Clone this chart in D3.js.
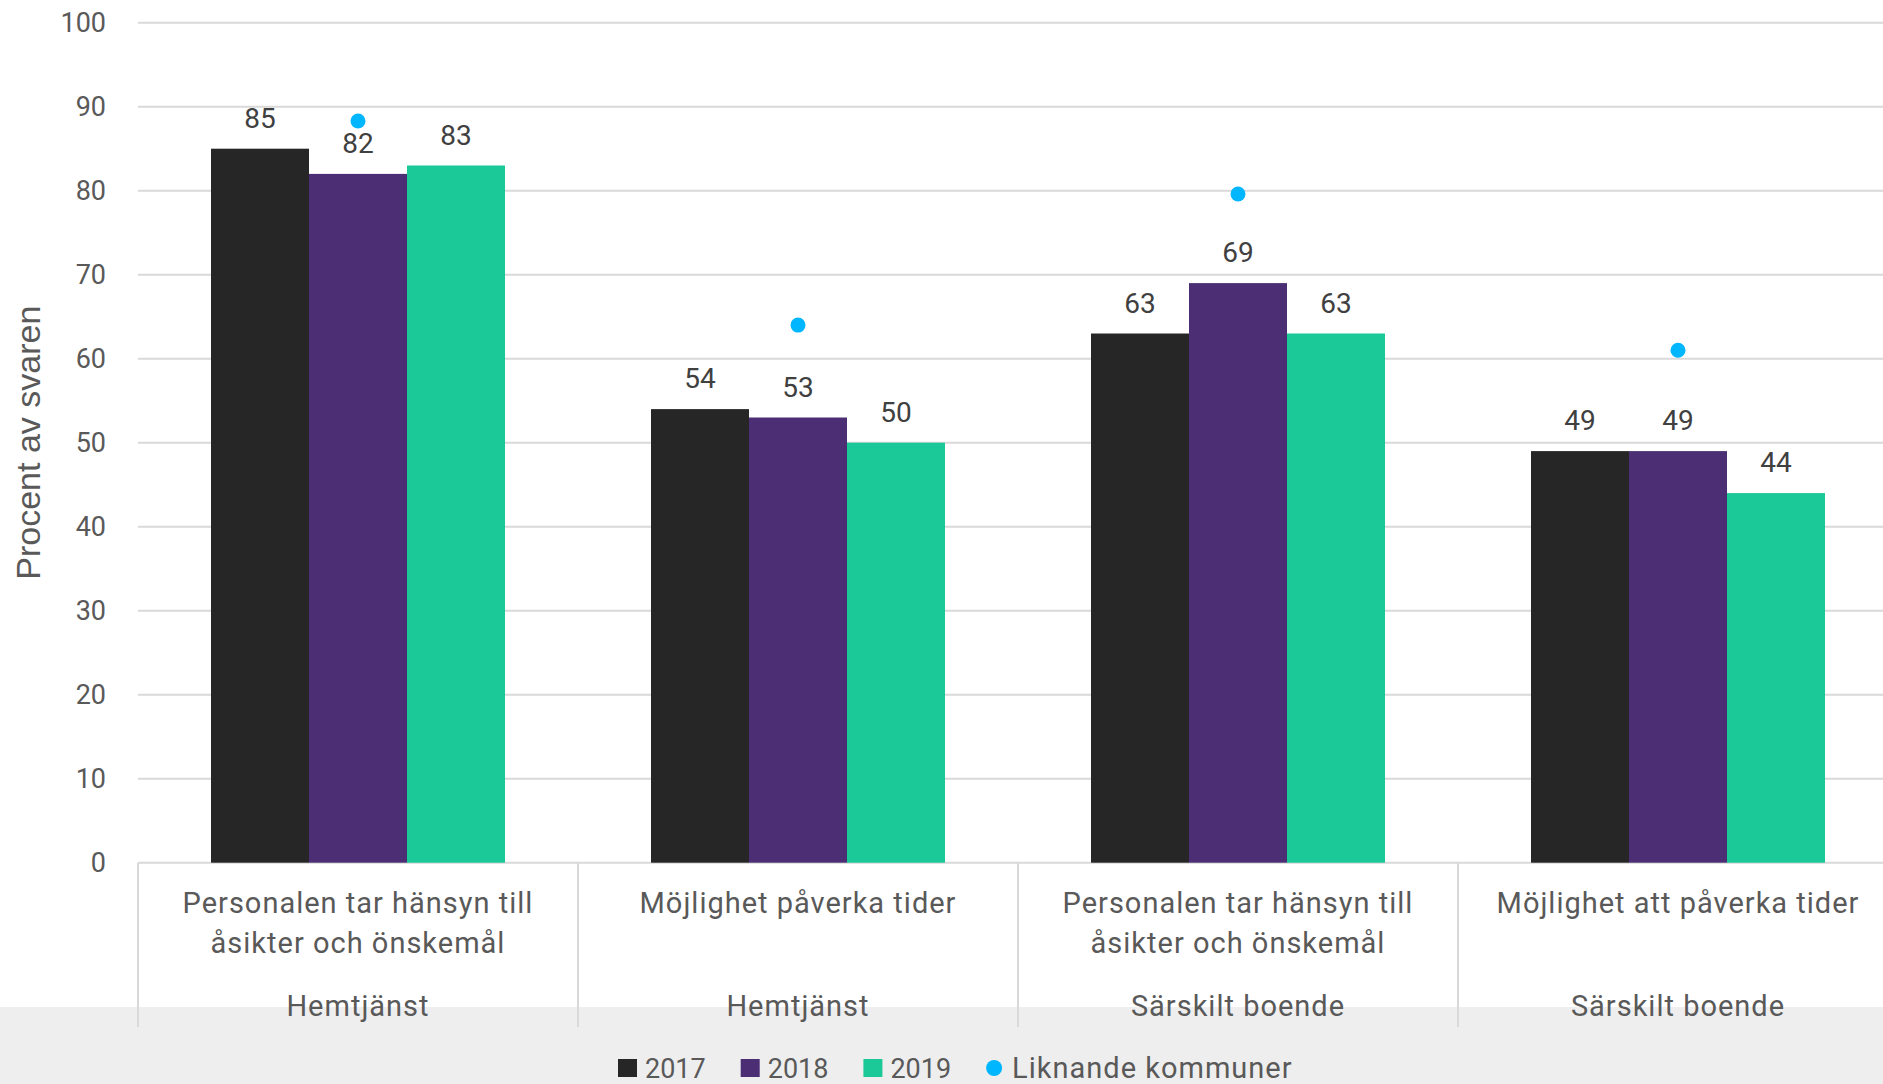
<!DOCTYPE html>
<html>
<head>
<meta charset="utf-8">
<script src="https://cdn.jsdelivr.net/npm/d3@7"></script>
<style>
  html, body { margin: 0; padding: 0; background: #ffffff; }
  svg { display: block; }
  text { font-family: Roboto, "Noto Sans", sans-serif; }
</style>
</head>
<body>
<svg id="chart" width="1883" height="1084"></svg>
<script>
// ---- Data ----
const categories = [
  ["Personalen tar hänsyn till", "åsikter och önskemål"],
  ["Möjlighet påverka tider"],
  ["Personalen tar hänsyn till", "åsikter och önskemål"],
  ["Möjlighet att påverka tider"]
];
const groups = ["Hemtjänst", "Hemtjänst", "Särskilt boende", "Särskilt boende"];
const years = ["2017", "2018", "2019"];
const values2017 = [85, 54, 63, 49];
const values2018 = [82, 53, 69, 49];
const values2019 = [83, 50, 63, 44];
const liknande = [88.3, 64, 79.6, 61];
const liknandeLabel = "Liknande kommuner";
const yTicks = [0, 10, 20, 30, 40, 50, 60, 70, 80, 90, 100];
const yTitle = "Procent av svaren";

const seriesValues = [values2017, values2018, values2019];
const colors = ["#262626", "#4b2e74", "#1bc897"];
const dotColor = "#00b6ff";

// ---- Layout ----
const W = 1883, H = 1084;
const plotLeft = 138, plotTop = 22.7, plotBottom = 862.7;
const bandW = 440;
const svg = d3.select("#chart");

const idx = d3.range(categories.length);
const x0 = d3.scaleBand().domain(idx).range([plotLeft, plotLeft + bandW * idx.length]).padding(0);
const x1 = d3.scaleBand().domain(years).range([0, x0.bandwidth()]).paddingInner(0).paddingOuter(0.745);
const y = d3.scaleLinear().domain([0, 100]).range([plotBottom, plotTop]);

// gray footer band
svg.append("rect").attr("x", 0).attr("y", 1007).attr("width", W).attr("height", H - 1007).attr("fill", "#eeeeee");

// gridlines
svg.append("g").selectAll("line").data(yTicks).join("line")
  .attr("x1", plotLeft).attr("x2", W)
  .attr("y1", d => y(d)).attr("y2", d => y(d))
  .attr("stroke", "#d9d9d9").attr("stroke-width", 2);

// y tick labels
svg.append("g").selectAll("text").data(yTicks).join("text")
  .attr("x", 106).attr("y", d => y(d)).attr("dy", "0.36em")
  .attr("text-anchor", "end").attr("font-size", 27).attr("fill", "#595959")
  .text(d => d);

// y title
svg.append("text")
  .attr("transform", `translate(40,${(plotTop + plotBottom) / 2}) rotate(-90)`)
  .attr("text-anchor", "middle")
  .style("font-family", "'Liberation Sans', Arial, sans-serif")
  .attr("font-size", 34).attr("fill", "#595959")
  .text(yTitle);

// category dividers
const bounds = idx.map(i => x0(i)).concat([x0(idx.length - 1) + x0.bandwidth()]);
svg.append("g").selectAll("line").data(bounds).join("line")
  .attr("x1", d => d).attr("x2", d => d)
  .attr("y1", plotBottom).attr("y2", 1027)
  .attr("stroke", "#d9d9d9").attr("stroke-width", 2);

// bars
const barData = [];
idx.forEach(i => years.forEach((yr, s) => barData.push({ i, yr, s, v: seriesValues[s][i] })));
svg.append("g").selectAll("rect").data(barData).join("rect")
  .attr("x", d => x0(d.i) + x1(d.yr))
  .attr("y", d => y(d.v))
  .attr("width", x1.bandwidth())
  .attr("height", d => y(0) - y(d.v))
  .attr("fill", d => colors[d.s]);

// value labels
svg.append("g").selectAll("text").data(barData).join("text")
  .attr("x", d => x0(d.i) + x1(d.yr) + x1.bandwidth() / 2)
  .attr("y", d => y(d.v) - 21)
  .attr("text-anchor", "middle").attr("font-size", 28).attr("fill", "#404040")
  .text(d => d.v);

// Liknande dots
svg.append("g").selectAll("circle").data(idx).join("circle")
  .attr("cx", i => x0(i) + x0.bandwidth() / 2)
  .attr("cy", i => y(liknande[i]))
  .attr("r", 7.5).attr("fill", dotColor);

// category labels
const catG = svg.append("g");
idx.forEach(i => {
  const cx = x0(i) + x0.bandwidth() / 2;
  categories[i].forEach((line, k) => {
    catG.append("text").attr("x", cx).attr("y", 903 + k * 40).attr("dy", "0.36em")
      .attr("text-anchor", "middle").attr("font-size", 29).attr("letter-spacing", 1)
      .attr("fill", "#595959").text(line);
  });
  catG.append("text").attr("x", cx).attr("y", 1006).attr("dy", "0.36em")
    .attr("text-anchor", "middle").attr("font-size", 29).attr("letter-spacing", 1)
    .attr("fill", "#595959").text(groups[i]);
});

// legend
const leg = svg.append("g");
let lx = 618;
const ly = 1068;
const legItems = years.map((yr, s) => ({ label: yr, color: colors[s], type: "rect" }))
  .concat([{ label: liknandeLabel, color: dotColor, type: "circle" }]);
legItems.forEach(it => {
  if (it.type === "rect") {
    leg.append("rect").attr("x", lx).attr("y", ly - 9).attr("width", 19).attr("height", 18).attr("fill", it.color);
    lx += 19 + 8;
  } else {
    leg.append("circle").attr("cx", lx + 8).attr("cy", ly).attr("r", 8).attr("fill", it.color);
    lx += 16 + 10;
  }
  const t = leg.append("text").attr("x", lx).attr("y", ly).attr("dy", "0.36em")
    .attr("fill", "#595959").text(it.label);
  if (it.type === "circle") t.attr("font-size", 29).attr("letter-spacing", 1);
  else t.attr("font-size", 27);
  lx += t.node().getComputedTextLength() + 35;
});
</script>
</body>
</html>
